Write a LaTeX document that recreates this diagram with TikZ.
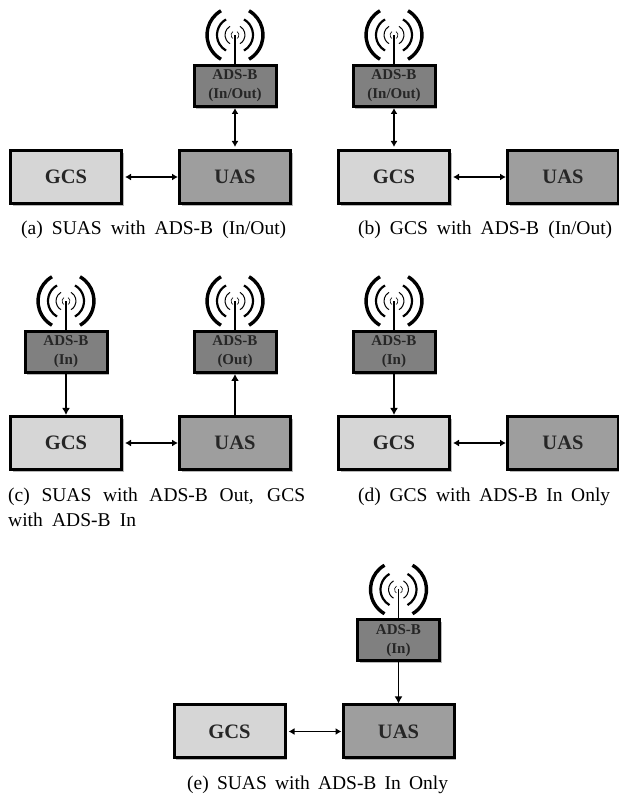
\documentclass[tikz,border=0pt]{standalone}
\usepackage{fontspec}
\setmainfont{Liberation Serif}
\usetikzlibrary{arrows.meta,positioning,shadows}

% mast and four arcs above a radio box
\newcommand{\antenna}[1]{%
  \coordinate[above=29 of #1.north] (#1tip);
  \draw[line width=1.8] (#1.north) -- (#1tip);
  \foreach \rad/\wid in {4/0.6,10/1,18/2.2,28/3.4}{
    \draw[line width=\wid] (#1tip) ++(60:\rad) arc (60:-60:\rad);
    \draw[line width=\wid] (#1tip) ++(120:\rad) arc (120:240:\rad);
  }
}

\begin{document}
\begin{tikzpicture}[
  x=1pt, y=1pt,
  node distance=41 and 55,
  blockbox/.style={draw, line width=3, align=center, minimum width=111, minimum height=53,
              font=\fontsize{20.5}{22}\selectfont\bfseries, text=black!85,
              drop shadow={shadow xshift=2.2, shadow yshift=-2.2, fill=black!28, opacity=1}},
  gcsbox/.style={blockbox, fill=black!16},
  uasbox/.style={blockbox, fill=black!38},
  adsbox/.style={draw, line width=3, align=center, minimum width=82, minimum height=41, inner sep=0,
              fill=black!50, text=black!85, font=\fontsize{15}{19}\selectfont\bfseries,
              drop shadow={shadow xshift=2.2, shadow yshift=-2.2, fill=black!28, opacity=1}},
  caption/.style={font=\fontsize{19.5}{25}\selectfont, inner sep=0, align=left, anchor=west},
  arrow/.style={{Latex[length=6,width=7]}-{Latex[length=6,width=7]}, line width=1.6, shorten <=2},
  oneway/.style={-{Latex[length=7,width=8]}, line width=1.6}
]
\useasboundingbox (0,0) rectangle (619,796);

% (a)
\node[gcsbox] (gcsa) at (66,619) {GCS};
\node[uasbox, right=of gcsa] (uasa) {UAS};
\node[adsbox, above=of uasa] (adsa) {ADS-B\\(In/Out)};
\draw[arrow] (gcsa) -- (uasa);
\draw[arrow] (uasa) -- (adsa);
\antenna{adsa}
\node[caption] (capa) at (21,566) {\makebox[265pt][s]{(a) SUAS with ADS-B (In/Out)}};

% (b)
\node[gcsbox] (gcsb) at (394,619) {GCS};
\node[uasbox, right=of gcsb] (uasb) {UAS};
\node[adsbox, above=of gcsb] (adsb) {ADS-B\\(In/Out)};
\draw[arrow] (gcsb) -- (uasb);
\draw[arrow] (gcsb) -- (adsb);
\antenna{adsb}
\node[caption] (capb) at (358,566) {\makebox[254pt][s]{(b) GCS with ADS-B (In/Out)}};

% (c)
\node[gcsbox] (gcsc) at (66,353) {GCS};
\node[uasbox, right=of gcsc] (uasc) {UAS};
\node[adsbox, above=of gcsc] (adsc) {ADS-B\\(In)};
\node[adsbox, above=of uasc] (adsd) {ADS-B\\(Out)};
\draw[arrow] (gcsc) -- (uasc);
\draw[oneway] (adsc) -- (gcsc);
\draw[oneway] (uasc) -- (adsd);
\antenna{adsc}
\antenna{adsd}
\node[caption] (capc) at (8,289) {\makebox[297pt][s]{(c) SUAS with ADS-B Out, GCS}\\\makebox[128pt][s]{with ADS-B In}};

% (d)
\node[gcsbox] (gcse) at (394,353) {GCS};
\node[uasbox, right=of gcse] (uase) {UAS};
\node[adsbox, above=of gcse] (adse) {ADS-B\\(In)};
\draw[arrow] (gcse) -- (uase);
\draw[oneway] (adse) -- (gcse);
\antenna{adse}
\node[caption] (capd) at (358,299) {\makebox[252pt][s]{(d) GCS with ADS-B In Only}};

% (e)
\node[gcsbox] (gcsf) at (229.5,64.5) {GCS};
\node[uasbox, right=of gcsf] (uasf) {UAS};
\node[adsbox, above=of uasf] (adsf) {ADS-B\\(In)};
\draw[arrow] (gcsf) -- (uasf);
\draw[oneway] (adsf) -- (uasf);
\antenna{adsf}
\node[caption] (cape) at (187,11) {\makebox[261pt][s]{(e) SUAS with ADS-B In Only}};
\end{tikzpicture}
\end{document}
